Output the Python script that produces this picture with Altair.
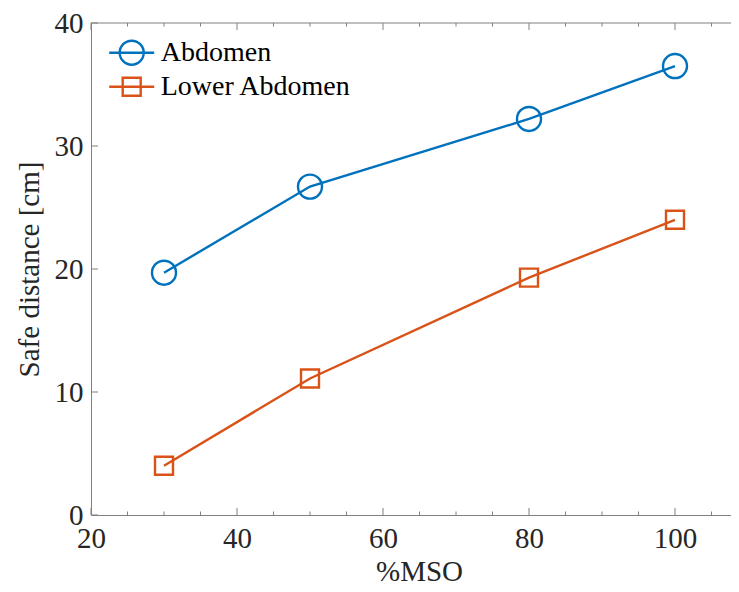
import altair as alt
import pandas as pd

# ---- data ----
series_names = ["Abdomen", "Lower Abdomen"]
colors = ["#0072BD", "#D95319"]
mso = [30, 50, 80, 100]
abdomen = [19.7, 26.7, 32.2, 36.5]
lower_abdomen = [4.0, 11.1, 19.3, 24.0]

x_major = [20, 40, 60, 80, 100]
x_minor = [25, 30, 35, 45, 50, 55, 65, 70, 75, 85, 90, 95, 105]
y_major = [0, 10, 20, 30, 40]

df = pd.DataFrame({
    "MSO": mso + mso,
    "dist": abdomen + lower_abdomen,
    "series": [series_names[0]] * len(mso) + [series_names[1]] * len(mso),
})

# ---- style ----
W, H = 640, 492
XDOM = [20, 20 + 640 / 7.3]
YDOM = [0, 40]
FONT = "Liberation Serif"
AX = "#808080"
TXT = "#262626"
FS = 29
LFS = 28
SW = 2.4

xs = alt.Scale(domain=XDOM, nice=False, zero=False)
ys = alt.Scale(domain=YDOM, nice=False, zero=False)
cs = alt.Scale(domain=series_names, range=colors)

circle_path = "M1,0A1,1,0,1,1,-1,0A1,1,0,1,1,1,0Z"
square_path = "M-0.75,-0.75L0.75,-0.75L0.75,0.75L-0.75,0.75Z"
circle_leg = "M-1.875,0L1.875,0M1,0A1,1,0,1,1,-1,0A1,1,0,1,1,1,0Z"
square_leg = "M-1.875,0L1.875,0M-0.75,-0.75L0.75,-0.75L0.75,0.75L-0.75,0.75Z"

base = alt.Chart(df)

lines = base.mark_line(strokeWidth=SW).encode(
    x=alt.X("MSO:Q", scale=xs, axis=alt.Axis(
        orient="bottom", values=x_major, ticks=False, grid=False,
        domainColor=AX, labelFont=FONT, labelFontSize=FS, labelColor=TXT,
        labelPadding=9, labelFlush=False, labelOverlap=False,
        title="%MSO", titleFont=FONT, titleFontSize=FS, titleFontWeight="normal",
        titleColor=TXT, titleX=328, titleY=65, titleBaseline="alphabetic",
        titleAlign="center")),
    y=alt.Y("dist:Q", scale=ys, axis=alt.Axis(
        orient="left", values=y_major, ticks=False, grid=False,
        domainColor=AX, labelFont=FONT, labelFontSize=FS, labelColor=TXT,
        labelPadding=8, labelFlush=False, labelOverlap=False,
        title="Safe distance [cm]", titleFont=FONT, titleFontSize=FS,
        titleFontWeight="normal", titleColor=TXT, titleX=-53, titleY=246,
        titleAngle=270, titleBaseline="alphabetic", titleAlign="center")),
    color=alt.Color("series:N", scale=cs, legend=None),
)

points = base.mark_point(filled=False, strokeWidth=SW, size=576, opacity=1).encode(
    x=alt.X("MSO:Q", scale=xs, axis=None),
    y=alt.Y("dist:Q", scale=ys, axis=None),
    color=alt.Color("series:N", scale=cs, legend=None),
    shape=alt.Shape("series:N", scale=alt.Scale(domain=series_names,
                    range=[circle_path, square_path]), legend=None),
)

leg = dict(orient="none", legendX=26.7, legendY=15.7, title=None,
           labelFont=FONT, labelFontSize=LFS, labelColor="#000000",
           symbolSize=576, symbolStrokeWidth=SW, labelOffset=15,
           rowPadding=3, padding=0, labelLimit=400)

legend_layer = base.transform_filter("false").mark_point(
    filled=False, strokeWidth=SW, size=576, opacity=1).encode(
    x=alt.X("MSO:Q", scale=xs, axis=None),
    y=alt.Y("dist:Q", scale=ys, axis=None),
    color=alt.Color("series:N", scale=cs, legend=alt.Legend(**leg)),
    shape=alt.Shape("series:N", scale=alt.Scale(domain=series_names,
                    range=[circle_leg, square_leg]), legend=alt.Legend(**leg)),
)

xmaj = alt.Chart(pd.DataFrame({"v": x_major}))
xmin = alt.Chart(pd.DataFrame({"v": x_minor}))
ymaj = alt.Chart(pd.DataFrame({"v": y_major}))
frame = alt.Chart(pd.DataFrame({"v": [0]}))

bottom_major = xmaj.mark_rule(color=AX, strokeWidth=1).encode(
    x=alt.X("v:Q", scale=xs, axis=None), y=alt.value(H), y2=alt.value(H - 7))
bottom_minor = xmin.mark_rule(color=AX, strokeWidth=1).encode(
    x=alt.X("v:Q", scale=xs, axis=None), y=alt.value(H), y2=alt.value(H - 3.5))
top_major = xmaj.mark_rule(color=AX, strokeWidth=1).encode(
    x=alt.X("v:Q", scale=xs, axis=None), y=alt.value(0), y2=alt.value(7))
top_minor = xmin.mark_rule(color=AX, strokeWidth=1).encode(
    x=alt.X("v:Q", scale=xs, axis=None), y=alt.value(0), y2=alt.value(3.5))
left_major = ymaj.mark_rule(color=AX, strokeWidth=1).encode(
    y=alt.Y("v:Q", scale=ys, axis=None), x=alt.value(0), x2=alt.value(7))
top_line = frame.mark_rule(color=AX, strokeWidth=1).encode(
    x=alt.value(0), x2=alt.value(W), y=alt.value(0))

chart = alt.layer(
    lines, points, legend_layer,
    bottom_major, bottom_minor, top_major, top_minor, left_major, top_line,
).resolve_scale(
    color="independent", shape="independent"
).resolve_axis(
    x="independent", y="independent"
).properties(
    width=W, height=H,
    padding={"left": 83, "top": 15, "right": 0, "bottom": 77},
    autosize=alt.AutoSizeParams(type="none"),
    background="white",
).configure_view(stroke=None)

chart.save("out.html", embed_options={"renderer": "svg", "actions": False})
